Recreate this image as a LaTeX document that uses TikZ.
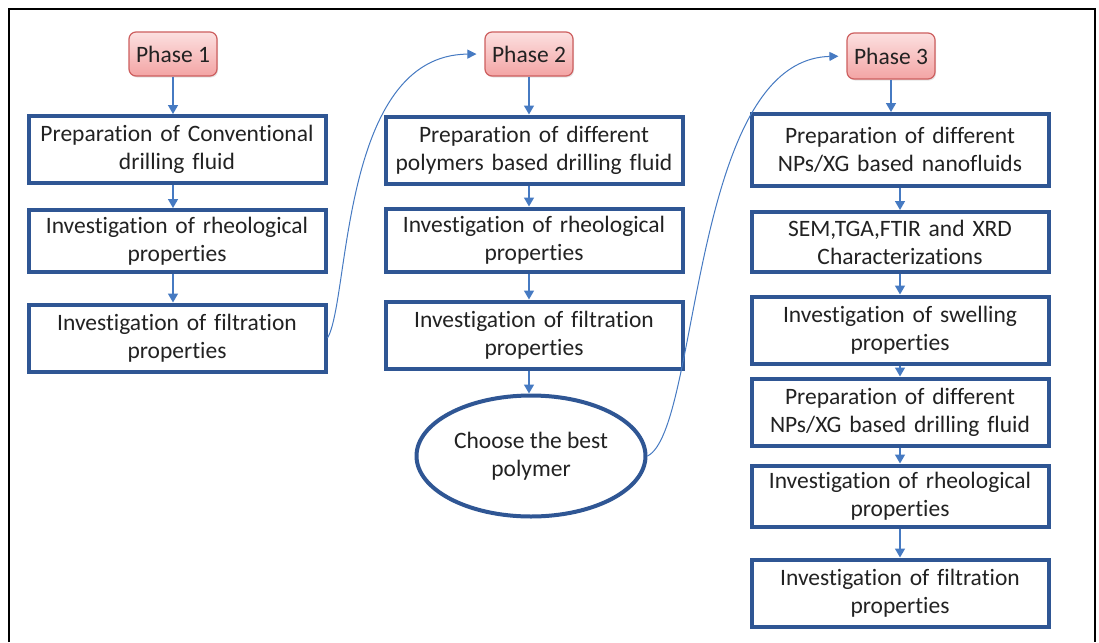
\documentclass[tikz,border=0pt]{standalone}
\usepackage{fontspec}
\setmainfont{Carlito}[Ligatures=NoCommon]
\usetikzlibrary{positioning, arrows.meta, shapes.geometric, shadows}

\definecolor{boxblue}{RGB}{47,86,148}
\definecolor{arrowblue}{RGB}{70,122,194}
\definecolor{phaseline}{RGB}{205,95,95}
\definecolor{phasetop}{RGB}{252,224,224}
\definecolor{phasebot}{RGB}{243,164,164}
\definecolor{inktext}{RGB}{34,34,34}

\tikzset{
  phase/.style={draw=phaseline, line width=1.2pt, rounded corners=7pt,
    top color=phasetop, bottom color=phasebot, minimum width=88pt,
    minimum height=44pt, text=inktext, font=\fontsize{23.5}{28}\selectfont,
    drop shadow={opacity=0.2, shadow xshift=1pt, shadow yshift=-1.5pt}},
  stepbox/.style={draw=boxblue, line width=4pt, fill=white,
    minimum width=297pt, minimum height=67pt, text width=288pt,
    align=center, inner sep=1pt, text=inktext,
    font=\fontsize{23.5}{28}\selectfont},
  choice/.style={ellipse, draw=boxblue, line width=4pt, fill=white,
    minimum width=229pt, minimum height=121pt, align=center,
    text=inktext, font=\fontsize{23.5}{28}\selectfont},
  flow/.style={-{Triangle[width=10pt,length=9pt]}, draw=arrowblue, line width=1.5pt},
  link/.style={-{Triangle[width=9pt,length=9pt]}, draw=arrowblue, line width=1pt, shorten >=8pt}
}

\begin{document}
\begin{tikzpicture}[x=1pt,y=1pt,on grid]
  \useasboundingbox[fill=white] (0,0) rectangle (1099,-642);
  \draw[line width=2.5pt] (9,-642) -- (9,-9) -- (1095,-9) -- (1095,-642);

  % phase 1
  \node[phase] (p1) at (173,-54) {Phase 1};
  \node[stepbox] (b1a) [below=95.5pt of p1, xshift=4pt] {Preparation of Conventional\\drilling fluid};
  \node[stepbox, minimum height=62pt] (b1b) [below=91.5pt of b1a] {Investigation of rheological\\properties};
  \node[stepbox] (b1c) [below=97pt of b1b] {Investigation of filtration\\properties};

  % phase 2
  \node[phase] (p2) at (529,-54) {Phase 2};
  \node[stepbox] (b2a) [below=96pt of p2, xshift=5pt] {Preparation of different\\polymers based drilling fluid};
  \node[stepbox, minimum height=63pt] (b2b) [below=90pt of b2a] {Investigation of rheological\\properties};
  \node[stepbox] (b2c) [below=95pt of b2b] {Investigation of filtration\\properties};
  \node[choice] (best) [below=121pt of b2c, xshift=-3pt] {Choose the best\\polymer};

  % phase 3
  \node[phase, minimum height=46pt] (p3) at (891,-56) {Phase 3};
  \node[stepbox, minimum height=72pt] (b3a) [below=94pt of p3, xshift=9pt] {Preparation of different\\NPs/XG based nanofluids};
  \node[stepbox, minimum height=60pt] (b3b) [below=92pt of b3a] {SEM,TGA,FTIR and XRD\\Characterizations};
  \node[stepbox] (b3c) [below=88pt of b3b] {Investigation of swelling\\properties};
  \node[stepbox] (b3d) [below=82pt of b3c] {Preparation of different\\NPs/XG based drilling fluid};
  \node[stepbox, minimum height=61pt] (b3e) [below=84pt of b3d] {Investigation of rheological\\properties};
  \node[stepbox] (b3f) [below=97pt of b3e] {Investigation of filtration\\properties};

  \path
    (p1) edge[flow] (p1 |- b1a.north)
    (b1a.south -| p1) edge[flow] (b1b.north -| p1)
    (b1b.south -| p1) edge[flow] (b1c.north -| p1)
    (p2) edge[flow] (p2 |- b2a.north)
    (b2a.south -| p2) edge[flow] (b2b.north -| p2)
    (b2b.south -| p2) edge[flow] (b2c.north -| p2)
    (b2c.south -| p2) edge[flow] (best.north -| p2)
    (p3) edge[flow] (p3 |- b3a.north)
    (b3a.south) edge[flow] (b3b.north)
    (b3b.south) edge[flow] (b3c.north)
    (b3c.south) edge[flow] (b3d.north)
    (b3d.south) edge[flow] (b3e.north)
    (b3e.south) edge[flow] (b3f.north);

  % links between phases
  \draw[link] (b1c.east) .. controls (350,-300) and (340,-55) .. (p2.west);
  \draw[link] (best.east) .. controls (700,-430) and (690,-60) .. (p3.west);
\end{tikzpicture}
\end{document}
